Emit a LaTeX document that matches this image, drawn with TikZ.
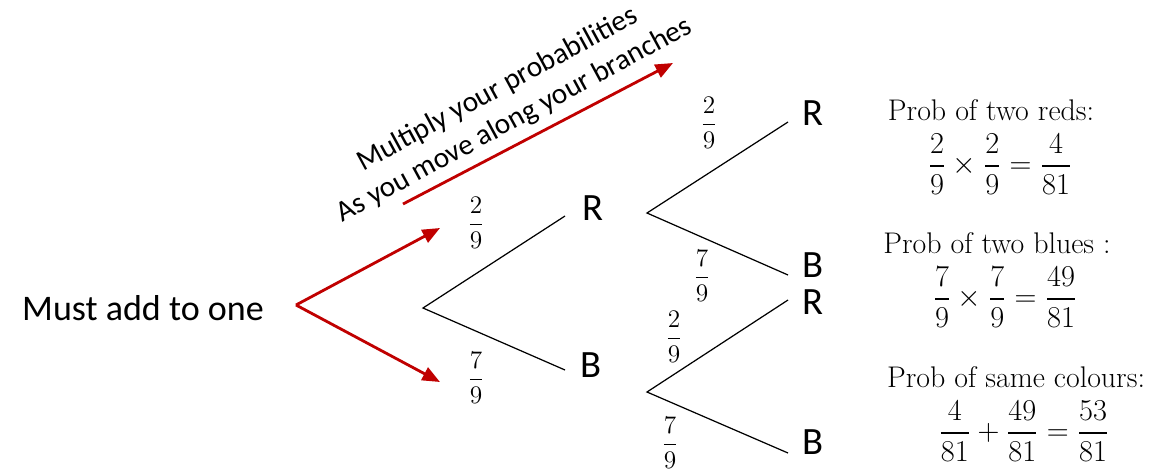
\documentclass[tikz,border=0pt]{standalone}
\usepackage{fontspec}
\usepackage{amsmath}
\usepackage{xcolor}
\usetikzlibrary{arrows.meta}
\newfontfamily\calibri{Carlito}
\definecolor{TreeRed}{HTML}{C00000}
\tikzset{
    % Outcome letters
    outcomenode/.style={
        font=\calibri\fontsize{22}{26}\selectfont,
        inner sep=0pt
    },
    % Branch probabilities
    probnode/.style={
        font=\fontsize{14.5}{17}\selectfont,
        inner sep=0pt
    },
    % Working on the right
    worknode/.style={
        font=\fontsize{17}{20}\selectfont,
        inner sep=0pt,
        align=center
    },
    % Sums on the right
    calcnode/.style={
        font=\fontsize{16.5}{20}\selectfont,
        inner sep=0pt
    },
    % Notes
    notenode/.style={
        font=\calibri\fontsize{20.5}{24}\selectfont,
        inner sep=0pt,
        align=center
    },
    % Tree branches
    branch/.style={
        line width=0.7pt,
        draw=black
    },
    % Red arrows
    redarrow/.style={
        -{Triangle[length=10pt,width=8pt]},
        line width=1.6pt,
        draw=TreeRed
    }
}

\begin{document}
\begin{tikzpicture}[x=0.02cm, y=-0.02cm]
        \useasboundingbox (0,0) rectangle (1159,471);

        % Forks and branch ends
        \coordinate (root) at (423,308);
        \coordinate (rfork) at (647,213);
        \coordinate (bfork) at (647,392);
        \coordinate (rend) at (565,216);
        \coordinate (bend) at (565,370);
        \coordinate (rrend) at (788,122);
        \coordinate (rbend) at (788,275);
        \coordinate (brend) at (788,300);
        \coordinate (bbend) at (788,453);

        % Outcomes
        \node[outcomenode] (r) at (593,208) {R};
        \node[outcomenode] (b) at (591,365) {B};
        \node[outcomenode] (rr) at (813,113) {R};
        \node[outcomenode] (rb) at (813,265) {B};
        \node[outcomenode] (br) at (813,302) {R};
        \node[outcomenode] (bb) at (813,442) {B};

        % Branches
        \draw[branch] (rend) -- (root) -- (bend);
        \draw[branch] (rrend) -- (rfork) -- (rbend);
        \draw[branch] (brend) -- (bfork) -- (bbend);

        % Probabilities
        \node[probnode] (pr) at (476,223) {$\dfrac{2}{9}$};
        \node[probnode] (pb) at (476,378) {$\dfrac{7}{9}$};
        \node[probnode] (prr) at (709,123) {$\dfrac{2}{9}$};
        \node[probnode] (prb) at (702,276) {$\dfrac{7}{9}$};
        \node[probnode] (pbr) at (674,337) {$\dfrac{2}{9}$};
        \node[probnode] (pbb) at (670,443) {$\dfrac{7}{9}$};

        % Notes
        \node[notenode] (addnote) at (143,308) {Must add to one};
        \coordinate (addfork) at (296,305);
        \coordinate (addup) at (440,228);
        \coordinate (adddown) at (440,382);
        \draw[redarrow] (addfork) -- (addup);
        \draw[redarrow] (addfork) -- (adddown);

        \node[notenode, font=\calibri\fontsize{16.7}{20}\selectfont, rotate=28.5] (multnote) at (506,105)
            {Multiply your probabilities\\As you move along your branches};
        \coordinate (multstart) at (403,204);
        \coordinate (multtip) at (673,63);
        \draw[redarrow] (multstart) -- (multtip);

        % Working
        \node[worknode, anchor=base] (redhead) at (991,120) {Prob of two reds:};
        \node[calcnode] (redcalc) at (1000,164) {$\dfrac{2}{9}\times\dfrac{2}{9}=\dfrac{4}{81}$};
        \node[worknode, anchor=base] (bluehead) at (997,253) {Prob of two blues :};
        \node[calcnode] (bluecalc) at (1005,297) {$\dfrac{7}{9}\times\dfrac{7}{9}=\dfrac{49}{81}$};
        \node[worknode, anchor=base] (samehead) at (1016,387) {Prob of same colours:};
        \node[calcnode] (samecalc) at (1024,431) {$\dfrac{4}{81}+\dfrac{49}{81}=\dfrac{53}{81}$};
\end{tikzpicture}
\end{document}
